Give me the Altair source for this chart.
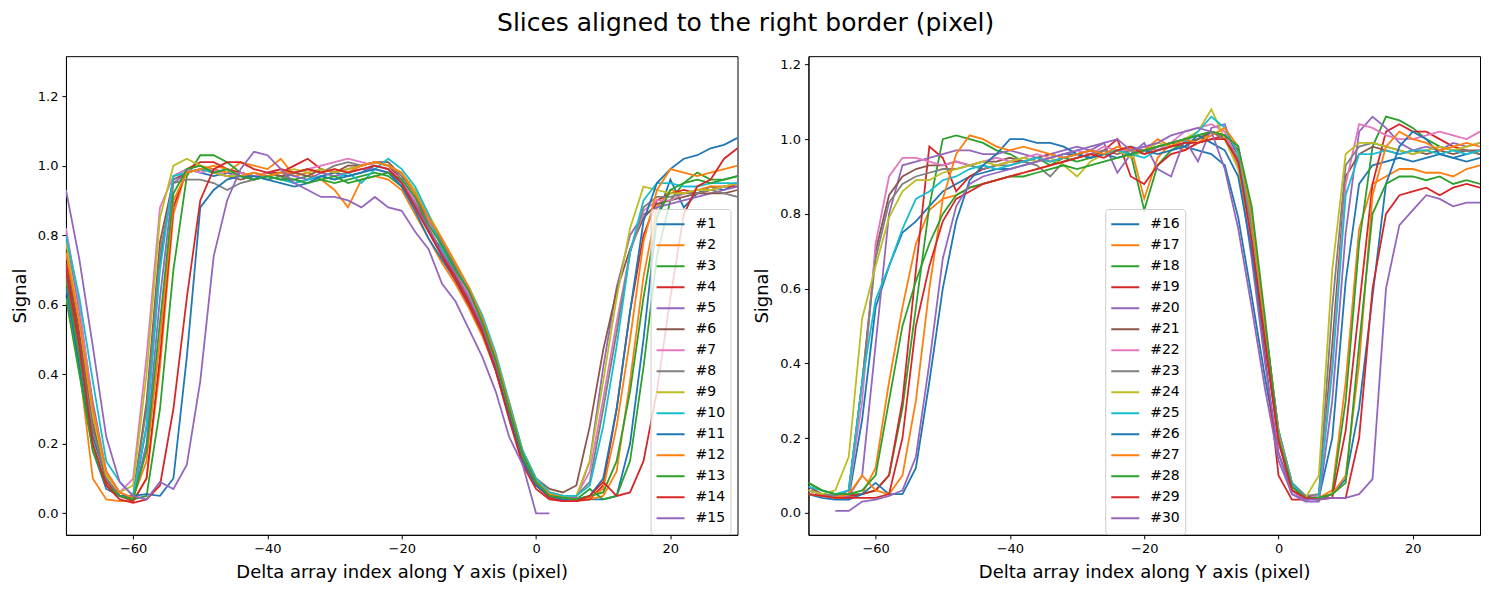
"""Slice profiles aligned to the right border, two panels of 15 slices each."""

import altair as alt
import pandas as pd

X_GRID = list(range(-70, 31, 2))

# left panel slices (#1 .. #15)
S01 = [0.72, 0.50, 0.22, 0.10, 0.05, 0.04, 0.25, 0.72, 0.97, 0.99,
       0.98, 0.97, 0.98, 0.97, 0.96, 0.98, 0.97, 0.95, 0.96, 0.97,
       0.98, 0.97, 0.98, 1.00, 0.99, 0.95, 0.89, 0.81, 0.74, 0.68,
       0.61, 0.53, 0.42, 0.29, 0.16, 0.09, 0.055, 0.045, 0.04, 0.04,
       0.04, 0.05, 0.20, 0.50, 0.85, 0.96, 0.88, 0.92, 0.94, 0.93, 0.95]
S02 = [0.68, 0.42, 0.10, 0.04, 0.035, 0.035, 0.10, 0.42, 0.86, 0.99,
       1.00, 0.99, 0.98, 1.01, 1.00, 0.99, 1.02, 0.97, 0.98, 0.96,
       0.93, 0.88, 0.96, 0.97, 0.96, 0.93, 0.86, 0.79, 0.72, 0.66,
       0.59, 0.51, 0.41, 0.28, 0.15, 0.08, 0.05, 0.04, 0.04, 0.04,
       0.05, 0.12, 0.38, 0.68, 0.88, 0.93, 0.92, 0.93, 0.94, 0.94, 0.95]
S03 = [0.68, 0.45, 0.20, 0.08, 0.05, 0.04, 0.05, 0.30, 0.70, 0.97,
       1.03, 1.03, 1.01, 0.98, 0.97, 0.96, 0.97, 0.96, 0.97, 0.96,
       0.95, 0.96, 0.97, 0.98, 0.97, 0.94, 0.88, 0.81, 0.76, 0.69,
       0.62, 0.53, 0.42, 0.29, 0.16, 0.08, 0.05, 0.04, 0.04, 0.07,
       0.04, 0.05, 0.15, 0.42, 0.74, 0.90, 0.95, 0.98, 0.96, 0.96, 0.97]
S04 = [0.72, 0.50, 0.25, 0.09, 0.05, 0.035, 0.10, 0.45, 0.88, 0.99,
       1.01, 1.01, 0.99, 0.98, 0.97, 0.98, 0.98, 1.00, 1.02, 0.99,
       0.98, 0.99, 1.00, 1.01, 1.00, 0.96, 0.90, 0.82, 0.75, 0.68,
       0.61, 0.53, 0.42, 0.28, 0.15, 0.08, 0.045, 0.035, 0.035, 0.04,
       0.08, 0.30, 0.58, 0.80, 0.90, 0.92, 0.93, 0.92, 0.93, 0.94, 0.94]
S05 = [0.80, 0.58, 0.32, 0.12, 0.06, 0.04, 0.20, 0.62, 0.95, 0.98,
       0.99, 0.98, 0.97, 0.98, 0.96, 0.97, 0.98, 0.97, 0.96, 0.98,
       0.97, 0.98, 0.99, 0.99, 0.98, 0.95, 0.89, 0.82, 0.75, 0.69,
       0.62, 0.54, 0.43, 0.30, 0.17, 0.09, 0.055, 0.045, 0.045, 0.15,
       0.42, 0.65, 0.80, 0.86, 0.88, 0.89, 0.90, 0.91, 0.92, 0.93, 0.94]
S06 = [0.75, 0.52, 0.26, 0.10, 0.05, 0.05, 0.32, 0.78, 0.96, 0.98,
       0.99, 0.98, 0.97, 0.96, 0.97, 0.98, 0.97, 0.98, 0.97, 0.99,
       0.98, 1.00, 1.00, 1.01, 1.01, 0.97, 0.92, 0.84, 0.78, 0.71,
       0.64, 0.55, 0.44, 0.31, 0.18, 0.10, 0.07, 0.06, 0.08, 0.25,
       0.47, 0.64, 0.76, 0.85, 0.89, 0.90, 0.91, 0.92, 0.92, 0.92, 0.93]
S07 = [0.82, 0.60, 0.30, 0.12, 0.06, 0.10, 0.45, 0.88, 0.97, 0.99,
       0.98, 0.99, 0.97, 0.98, 0.97, 0.98, 0.99, 0.98, 0.99, 1.00,
       1.01, 1.02, 1.01, 1.00, 0.99, 0.96, 0.90, 0.84, 0.77, 0.70,
       0.63, 0.55, 0.44, 0.30, 0.17, 0.09, 0.06, 0.05, 0.05, 0.12,
       0.33, 0.55, 0.75, 0.87, 0.90, 0.90, 0.92, 0.93, 0.93, 0.94, 0.95]
S08 = [0.70, 0.48, 0.24, 0.10, 0.05, 0.05, 0.30, 0.75, 0.95, 0.96,
       0.96, 0.95, 0.93, 0.95, 0.96, 0.97, 0.96, 0.98, 0.99, 0.98,
       1.00, 1.01, 1.00, 1.01, 1.00, 0.97, 0.92, 0.85, 0.78, 0.71,
       0.64, 0.55, 0.44, 0.31, 0.18, 0.10, 0.06, 0.05, 0.05, 0.09,
       0.30, 0.52, 0.75, 0.88, 0.91, 0.91, 0.92, 0.92, 0.93, 0.92, 0.91]
S09 = [0.78, 0.55, 0.28, 0.11, 0.06, 0.08, 0.40, 0.85, 1.00, 1.02,
       1.00, 0.98, 0.97, 0.97, 0.98, 0.97, 0.98, 0.99, 0.98, 0.99,
       0.98, 0.99, 1.00, 1.01, 1.00, 0.98, 0.93, 0.86, 0.79, 0.72,
       0.65, 0.56, 0.45, 0.32, 0.18, 0.10, 0.06, 0.05, 0.05, 0.15,
       0.38, 0.62, 0.82, 0.94, 0.93, 0.92, 0.92, 0.93, 0.93, 0.94, 0.95]
S10 = [0.80, 0.62, 0.38, 0.15, 0.09, 0.05, 0.25, 0.70, 0.97, 0.98,
       0.99, 0.98, 0.99, 0.97, 0.96, 0.97, 0.96, 0.95, 0.96, 0.97,
       0.96, 0.98, 0.95, 0.99, 1.02, 0.99, 0.94, 0.86, 0.76, 0.70,
       0.65, 0.57, 0.46, 0.32, 0.18, 0.10, 0.06, 0.05, 0.05, 0.08,
       0.25, 0.48, 0.75, 0.90, 0.95, 0.95, 0.94, 0.94, 0.95, 0.95, 0.95]
S11 = [0.65, 0.42, 0.18, 0.07, 0.05, 0.05, 0.055, 0.05, 0.10, 0.45,
       0.88, 0.93, 0.96, 0.97, 0.97, 0.96, 0.95, 0.94, 0.95, 0.97,
       0.96, 0.97, 0.98, 0.99, 0.98, 0.94, 0.87, 0.79, 0.73, 0.67,
       0.60, 0.52, 0.41, 0.28, 0.15, 0.08, 0.05, 0.04, 0.04, 0.05,
       0.10, 0.30, 0.58, 0.84, 0.95, 0.99, 1.02, 1.03, 1.05, 1.06, 1.08]
S12 = [0.75, 0.55, 0.30, 0.12, 0.06, 0.045, 0.15, 0.50, 0.90, 0.98,
       0.99, 1.00, 0.99, 0.97, 0.98, 0.97, 0.98, 0.98, 0.99, 0.98,
       0.99, 0.98, 1.00, 1.01, 1.00, 0.98, 0.92, 0.85, 0.79, 0.72,
       0.65, 0.56, 0.45, 0.31, 0.17, 0.09, 0.055, 0.045, 0.04, 0.045,
       0.07, 0.25, 0.50, 0.78, 0.93, 0.99, 0.98, 0.97, 0.98, 0.99, 1.00]
S13 = [0.62, 0.40, 0.18, 0.08, 0.05, 0.04, 0.18, 0.55, 0.92, 0.99,
       1.00, 0.98, 0.99, 0.97, 0.96, 0.97, 0.96, 0.96, 0.95, 0.96,
       0.97, 0.95, 0.96, 0.97, 0.98, 0.96, 0.91, 0.83, 0.77, 0.70,
       0.64, 0.55, 0.44, 0.30, 0.17, 0.09, 0.05, 0.045, 0.04, 0.05,
       0.06, 0.15, 0.35, 0.62, 0.85, 0.93, 0.95, 0.96, 0.95, 0.96, 0.97]
S14 = [0.70, 0.48, 0.20, 0.08, 0.04, 0.03, 0.04, 0.08, 0.30, 0.62,
       0.90, 0.99, 1.01, 1.01, 0.99, 0.98, 0.99, 0.98, 0.99, 0.98,
       0.99, 0.98, 0.99, 1.00, 0.99, 0.95, 0.88, 0.81, 0.74, 0.67,
       0.60, 0.52, 0.41, 0.27, 0.14, 0.07, 0.04, 0.035, 0.035, 0.05,
       0.09, 0.05, 0.06, 0.15, 0.35, 0.62, 0.86, 0.94, 0.96, 1.02, 1.05]
S15 = [0.93, 0.73, 0.48, 0.22, 0.09, 0.05, 0.04, 0.09, 0.07, 0.14,
       0.38, 0.74, 0.90, 0.99, 1.04, 1.03, 0.99, 0.95, 0.93, 0.91,
       0.91, 0.90, 0.88, 0.91, 0.88, 0.87, 0.81, 0.76, 0.66, 0.61,
       0.53, 0.45, 0.35, 0.22, 0.14, 0.0, 0.0, None, None, None,
       None, None, None, None, None, None, None, None, None, None, None]

# right panel slices (#16 .. #30)
S16 = [0.06, 0.05, 0.04, 0.04, 0.25, 0.55, 0.66, 0.75, 0.78, 0.82,
       0.86, 0.88, 0.90, 0.91, 0.92, 0.92, 0.93, 0.94, 0.95, 0.96,
       0.96, 0.97, 0.96, 0.97, 0.98, 0.97, 0.98, 0.99, 0.98, 0.97,
       0.96, 0.93, 0.79, 0.58, 0.36, 0.16, 0.06, 0.035, 0.04, 0.20,
       0.62, 0.88, 0.93, 0.94, 0.95, 0.94, 0.95, 0.96, 0.95, 0.96, 0.97]
S17 = [0.05, 0.045, 0.04, 0.04, 0.05, 0.12, 0.35, 0.55, 0.72, 0.81,
       0.84, 0.85, 0.87, 0.88, 0.89, 0.90, 0.91, 0.92, 0.93, 0.94,
       0.95, 0.96, 0.97, 0.96, 0.98, 0.84, 0.95, 0.99, 0.97, 0.99,
       1.02, 1.00, 0.93, 0.74, 0.47, 0.20, 0.07, 0.04, 0.04, 0.06,
       0.35, 0.76, 0.88, 0.90, 0.92, 0.92, 0.91, 0.91, 0.90, 0.92, 0.93]
S18 = [0.08, 0.06, 0.05, 0.05, 0.05, 0.06, 0.10, 0.28, 0.55, 0.82,
       1.00, 1.01, 1.00, 0.99, 0.97, 0.96, 0.94, 0.95, 0.93, 0.95,
       0.94, 0.95, 0.96, 0.97, 0.96, 0.81, 0.93, 0.97, 0.99, 1.00,
       1.02, 1.01, 0.97, 0.80, 0.50, 0.20, 0.08, 0.045, 0.04, 0.05,
       0.30, 0.72, 0.98, 1.06, 1.05, 1.03, 1.00, 0.98, 0.97, 0.97, 0.96]
S19 = [0.06, 0.05, 0.045, 0.045, 0.05, 0.06, 0.10, 0.30, 0.65, 0.98,
       0.95, 0.86, 0.90, 0.92, 0.93, 0.94, 0.94, 0.95, 0.94, 0.95,
       0.96, 0.95, 0.97, 1.00, 0.90, 0.88, 0.93, 0.96, 0.97, 0.99,
       1.00, 1.01, 0.96, 0.72, 0.42, 0.10, 0.035, 0.035, 0.04, 0.04,
       0.22, 0.55, 0.88, 1.02, 1.04, 1.02, 1.02, 1.00, 0.98, 0.97, 0.96]
S20 = [0.06, 0.05, 0.045, 0.045, 0.10, 0.45, 0.80, 0.93, 0.94, 0.95,
       0.96, 0.97, 0.97, 0.96, 0.96, 0.97, 0.96, 0.95, 0.96, 0.97,
       0.98, 0.97, 0.99, 0.91, 0.96, 0.99, 0.92, 0.90, 1.00, 0.94,
       1.03, 1.04, 0.93, 0.68, 0.40, 0.16, 0.05, 0.03, 0.03, 0.30,
       0.75, 1.02, 1.06, 1.03, 0.99, 0.97, 0.98, 0.97, 0.99, 0.98, 0.99]
S21 = [0.07, 0.05, 0.045, 0.06, 0.35, 0.70, 0.85, 0.90, 0.92, 0.93,
       0.93, 0.94, 0.93, 0.94, 0.94, 0.95, 0.94, 0.95, 0.96, 0.95,
       0.96, 0.97, 0.96, 0.97, 0.96, 0.97, 0.98, 0.99, 0.98, 1.00,
       1.02, 1.01, 0.97, 0.77, 0.50, 0.22, 0.08, 0.045, 0.04, 0.45,
       0.90, 0.96, 0.98, 0.97, 0.96, 0.97, 0.96, 0.97, 0.96, 0.97, 0.97]
S22 = [0.06, 0.05, 0.045, 0.05, 0.30, 0.72, 0.90, 0.95, 0.95, 0.94,
       0.93, 0.94, 0.93, 0.94, 0.95, 0.94, 0.95, 0.96, 0.95, 0.96,
       0.97, 0.96, 0.98, 0.97, 0.97, 0.98, 0.97, 0.99, 1.02, 1.03,
       1.04, 1.02, 0.94, 0.72, 0.45, 0.19, 0.06, 0.035, 0.05, 0.40,
       0.88, 1.04, 1.03, 1.01, 1.00, 1.00, 1.01, 1.02, 1.01, 1.00, 1.02]
S23 = [0.06, 0.05, 0.045, 0.06, 0.35, 0.68, 0.83, 0.88, 0.90, 0.91,
       0.92, 0.92, 0.93, 0.92, 0.93, 0.93, 0.94, 0.93, 0.90, 0.94,
       0.95, 0.96, 0.97, 0.96, 0.97, 0.96, 0.98, 0.99, 1.00, 1.01,
       1.02, 1.00, 0.95, 0.76, 0.50, 0.22, 0.08, 0.045, 0.05, 0.55,
       0.93, 0.98, 0.99, 0.98, 0.97, 0.96, 0.97, 0.98, 0.97, 0.97, 0.96]
S24 = [0.06, 0.05, 0.06, 0.15, 0.52, 0.66, 0.79, 0.86, 0.89, 0.89,
       0.91, 0.92, 0.93, 0.94, 0.93, 0.94, 0.95, 0.94, 0.95, 0.93,
       0.90, 0.94, 0.96, 0.97, 0.95, 0.97, 0.99, 0.98, 1.00, 1.02,
       1.08, 1.00, 0.92, 0.74, 0.48, 0.21, 0.07, 0.04, 0.10, 0.65,
       0.96, 0.99, 0.99, 0.98, 0.97, 0.96, 0.97, 0.98, 0.97, 0.98, 0.99]
S25 = [0.07, 0.06, 0.05, 0.06, 0.35, 0.57, 0.66, 0.76, 0.84, 0.86,
       0.89, 0.90, 0.92, 0.93, 0.92, 0.93, 0.94, 0.95, 0.94, 0.95,
       0.96, 0.95, 0.96, 0.97, 0.96, 0.95, 0.97, 0.98, 0.99, 1.02,
       1.06, 1.03, 0.96, 0.78, 0.50, 0.22, 0.08, 0.04, 0.04, 0.38,
       0.85, 0.96, 0.96, 0.97, 0.96, 0.97, 0.97, 0.96, 0.97, 0.96, 0.97]
S26 = [0.05, 0.04, 0.035, 0.035, 0.05, 0.08, 0.05, 0.05, 0.12, 0.35,
       0.60, 0.78, 0.89, 0.93, 0.96, 1.00, 1.00, 0.99, 0.99, 0.98,
       0.96, 0.95, 0.96, 0.95, 0.96, 0.97, 0.96, 0.97, 0.98, 1.01,
       0.99, 0.97, 0.90, 0.70, 0.45, 0.20, 0.07, 0.04, 0.035, 0.05,
       0.09, 0.28, 0.58, 0.88, 0.98, 1.02, 1.00, 0.96, 0.95, 0.94, 0.95]
S27 = [0.05, 0.045, 0.04, 0.05, 0.10, 0.06, 0.05, 0.10, 0.30, 0.60,
       0.84, 0.96, 1.01, 1.00, 0.98, 0.97, 0.98, 0.97, 0.96, 0.95,
       0.96, 0.97, 0.96, 0.98, 0.97, 0.97, 1.00, 0.98, 1.00, 0.99,
       1.01, 1.03, 0.98, 0.79, 0.50, 0.21, 0.07, 0.04, 0.04, 0.05,
       0.10, 0.40, 0.85, 0.98, 1.02, 1.00, 0.99, 0.97, 0.98, 0.99, 0.98]
S28 = [0.08, 0.06, 0.05, 0.05, 0.06, 0.10, 0.30, 0.50, 0.62, 0.72,
       0.80, 0.85, 0.87, 0.88, 0.89, 0.90, 0.90, 0.91, 0.92, 0.93,
       0.92, 0.93, 0.94, 0.95, 0.96, 0.97, 0.98, 0.99, 1.00, 1.01,
       1.02, 1.01, 0.98, 0.82, 0.52, 0.20, 0.07, 0.04, 0.04, 0.05,
       0.08, 0.45, 0.80, 0.88, 0.90, 0.90, 0.89, 0.90, 0.88, 0.89, 0.88]
S29 = [0.05, 0.045, 0.04, 0.04, 0.04, 0.04, 0.05, 0.20, 0.50, 0.66,
       0.78, 0.84, 0.86, 0.88, 0.89, 0.90, 0.91, 0.92, 0.93, 0.94,
       0.95, 0.96, 0.95, 0.97, 0.98, 0.96, 0.97, 0.98, 0.99, 0.99,
       1.00, 1.00, 0.94, 0.73, 0.46, 0.19, 0.06, 0.04, 0.035, 0.04,
       0.04, 0.20, 0.60, 0.80, 0.85, 0.86, 0.87, 0.85, 0.87, 0.88, 0.87]
S30 = [None, None, 0.005, 0.005, 0.03, 0.035, 0.045, 0.06, 0.15, 0.40,
       0.68, 0.82, 0.88, 0.90, 0.91, 0.92, 0.93, 0.94, 0.95, 0.96,
       0.97, 0.98, 0.99, 1.00, 0.97, 0.98, 0.99, 1.01, 1.02, 1.03,
       1.02, 0.92, 0.76, 0.55, 0.33, 0.14, 0.05, 0.035, 0.035, 0.04,
       0.04, 0.05, 0.09, 0.60, 0.77, 0.81, 0.85, 0.84, 0.82, 0.83, 0.83]

LEFT_SERIES = [S01, S02, S03, S04, S05, S06, S07, S08, S09, S10, S11, S12, S13, S14, S15]
RIGHT_SERIES = [S16, S17, S18, S19, S20, S21, S22, S23, S24, S25, S26, S27, S28, S29, S30]
LEFT_NAMES = [f"#{i}" for i in range(1, 16)]
RIGHT_NAMES = [f"#{i}" for i in range(16, 31)]

X_TICKS = [-60, -40, -20, 0, 20]
Y_TICKS = [0.0, 0.2, 0.4, 0.6, 0.8, 1.0, 1.2]

TAB10 = ["#1f77b4", "#ff7f0e", "#2ca02c", "#d62728", "#9467bd",
         "#8c564b", "#e377c2", "#7f7f7f", "#bcbd22", "#17becf"]
FONT = "DejaVu Sans"


def _long_frame(series, names):
    rows = []
    for name, values in zip(names, series):
        for x, y in zip(X_GRID, values):
            if y is not None:
                rows.append({"x": x, "y": y, "series": name})
    return pd.DataFrame(rows)


def _panel(series, names, y_domain, legend_x):
    data = _long_frame(series, names)
    return (
        alt.Chart(data)
        .mark_line(strokeWidth=1.8, clip=True)
        .encode(
            x=alt.X(
                "x:Q",
                title="Delta array index along Y axis (pixel)",
                scale=alt.Scale(domain=[-70, 30], nice=False, zero=False),
                axis=alt.Axis(values=X_TICKS),
            ),
            y=alt.Y(
                "y:Q",
                title="Signal",
                scale=alt.Scale(domain=y_domain, nice=False, zero=False),
                axis=alt.Axis(values=Y_TICKS, format=".1f"),
            ),
            color=alt.Color(
                "series:N",
                sort=names,
                scale=alt.Scale(domain=names, range=TAB10 + TAB10[:5]),
                legend=alt.Legend(
                    title=None,
                    orient="none",
                    legendX=legend_x,
                    legendY=153,
                    symbolType="stroke",
                    symbolSize=784,
                    symbolStrokeWidth=2,
                    labelFontSize=14,
                    labelFont=FONT,
                    labelOffset=10,
                    rowPadding=0,
                    clipHeight=20.6,
                    fillColor="rgba(255,255,255,0.8)",
                    strokeColor="#cccccc",
                    cornerRadius=3,
                    padding=5,
                ),
            ),
            detail="series:N",
        )
        .properties(width=672, height=479)
    )


left = _panel(LEFT_SERIES, LEFT_NAMES, [-0.062, 1.315], 585)
right = _panel(RIGHT_SERIES, RIGHT_NAMES, [-0.059, 1.222], 297)

chart = (
    alt.hconcat(left, right, spacing=14)
    .resolve_scale(color="independent")
    .properties(
        title=alt.TitleParams(
            "Slices aligned to the right border (pixel)",
            fontSize=25,
            font=FONT,
            fontWeight="normal",
            anchor="middle",
            color="black",
            offset=20,
        ),
        padding={"left": 2, "top": 2, "right": 0, "bottom": 0},
    )
    .configure_view(stroke="black", strokeWidth=1)
    .configure_axis(
        grid=False,
        domainColor="black",
        tickColor="black",
        tickSize=4,
        labelPadding=4,
        labelColor="black",
        labelFont=FONT,
        labelFontSize=13,
        titleColor="black",
        titleFont=FONT,
        titleFontSize=18,
        titleFontWeight="normal",
        titlePadding=8,
    )
)

chart.save("out.html", embed_options={"renderer": "svg", "actions": False})
